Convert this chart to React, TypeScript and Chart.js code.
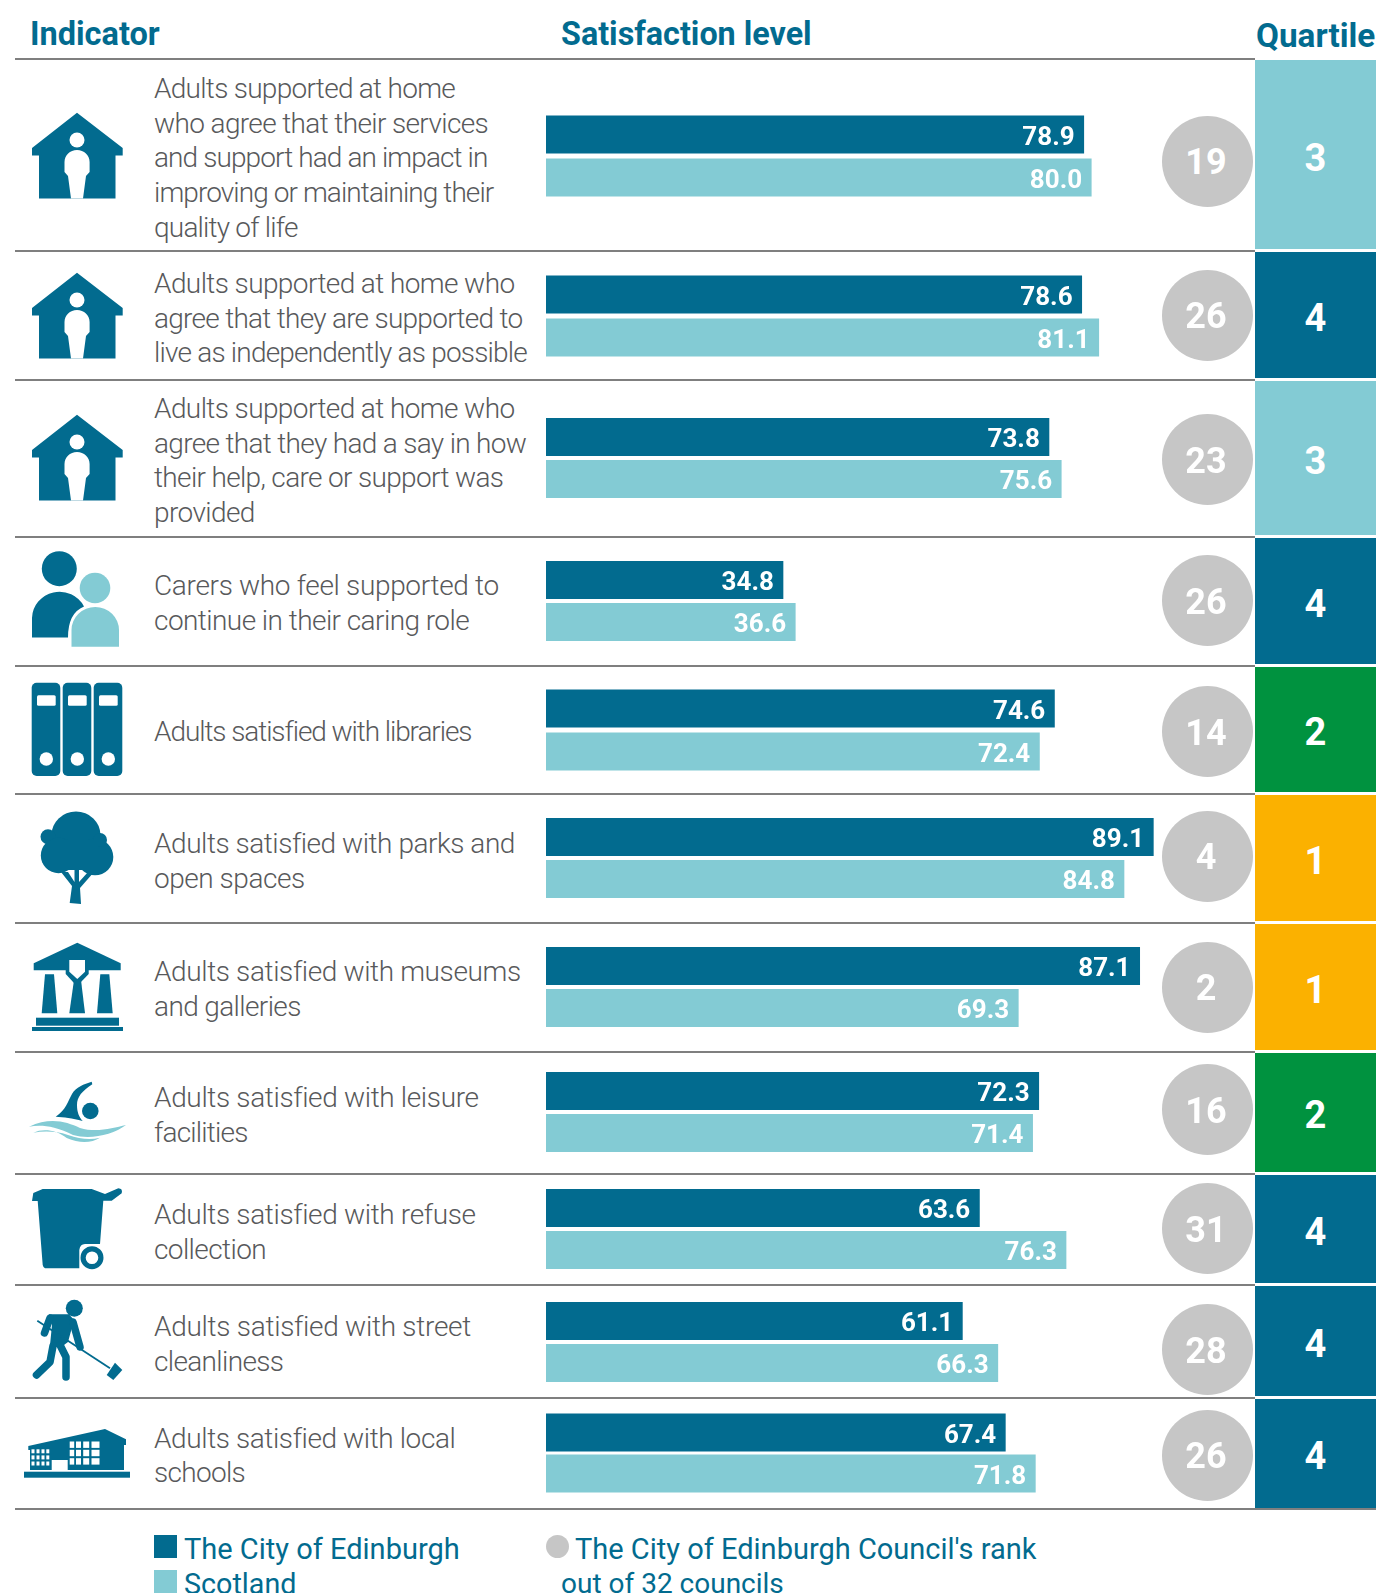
import React, { useEffect, useRef } from "react";
import { Chart, registerables } from "chart.js";

Chart.register(...registerables);

const indicatorLines = [
  ["Adults supported at home", "who agree that their services", "and support had an impact in", "improving or maintaining their", "quality of life"],
  ["Adults supported at home who", "agree that they are supported to", "live as independently as possible"],
  ["Adults supported at home who", "agree that they had a say in how", "their help, care or support was", "provided"],
  ["Carers who feel supported to", "continue in their caring role"],
  ["Adults satisfied with libraries"],
  ["Adults satisfied with parks and", "open spaces"],
  ["Adults satisfied with museums", "and galleries"],
  ["Adults satisfied with leisure", "facilities"],
  ["Adults satisfied with refuse", "collection"],
  ["Adults satisfied with street", "cleanliness"],
  ["Adults satisfied with local", "schools"],
];
const edinburgh = [78.9, 78.6, 73.8, 34.8, 74.6, 89.1, 87.1, 72.3, 63.6, 61.1, 67.4];
const scotland = [80.0, 81.1, 75.6, 36.6, 72.4, 84.8, 69.3, 71.4, 76.3, 66.3, 71.8];
const ranks = [19, 26, 23, 26, 14, 4, 2, 16, 31, 28, 26];
const quartiles = [3, 4, 3, 4, 2, 1, 1, 2, 4, 4, 4];

const separators = [59, 251, 380, 536.5, 665.5, 794, 923, 1051.5, 1173.5, 1285, 1398, 1508.5];
const barTops = [115, 275, 418, 561, 689, 818, 947, 1072, 1189, 1302, 1413];
const barGaps = [5, 5, 4, 4, 5, 4, 4, 4, 4, 4, 3];
const circleCenters = [161, 315, 459.5, 600.5, 731.5, 856, 987, 1109.5, 1228.5, 1349.5, 1455];
const textCenters = [89.4, 284.5, 409.5, 586.3, 732.7, 844.5, 972.5, 1098.5, 1215.4, 1327.2, 1439];
const lineSpacings = [
  [-0.72, -0.63, -0.9, -0.91, -0.8],
  [-0.6, -0.73, -0.8],
  [-0.6, -0.68, -0.66, -0.6],
  [-0.33, -0.56],
  [-1.08],
  [-0.46, -0.46],
  [-0.38, -0.62],
  [-0.35, -0.8],
  [-0.35, -0.6],
  [-0.28, -0.65],
  [-0.4, -0.7],
];

const DARK = "#026B8F";
const LIGHT = "#83CBD4";
const GREY = "#C6C6C6";
const QUARTILE_COLOURS: Record<number, string> = { 1: "#FBB100", 2: "#00923F", 3: LIGHT, 4: DARK };
const FONT = "Roboto, sans-serif";

const valueLabels = {
  id: "valueLabels",
  afterDatasetsDraw(chart: any) {
    const { ctx } = chart;
    ctx.save();
    ctx.font = `700 26px ${FONT}`;
    ctx.fillStyle = "#fff";
    ctx.textAlign = "right";
    ctx.textBaseline = "middle";
    chart.data.datasets.forEach((ds: any, i: number) => {
      chart.getDatasetMeta(i).data.forEach((bar: any, j: number) => {
        ctx.fillText(ds.data[j].toFixed(1), bar.x - 9.5, bar.y + 3.5);
      });
    });
    ctx.restore();
  },
};

function BarRow({ index }: { index: number }) {
  const ref = useRef<HTMLCanvasElement>(null);
  const gap = barGaps[index];
  const height = 76 + 2 * gap;
  useEffect(() => {
    const chart = new Chart(ref.current!, {
      type: "bar",
      data: {
        labels: [indicatorLines[index].join(" ")],
        datasets: [
          { label: "The City of Edinburgh", data: [edinburgh[index]], backgroundColor: DARK },
          { label: "Scotland", data: [scotland[index]], backgroundColor: LIGHT },
        ],
      },
      options: {
        indexAxis: "y",
        animation: false,
        responsive: false,
        layout: { padding: 0 },
        datasets: { bar: { categoryPercentage: 1, barPercentage: 38 / (38 + gap) } },
        scales: {
          x: { display: false, min: 0, max: 100 },
          y: { display: false },
        },
        plugins: { legend: { display: false }, tooltip: { enabled: false } },
      },
      plugins: [valueLabels],
    } as any);
    return () => chart.destroy();
  }, [index, gap]);
  return (
    <canvas
      ref={ref}
      width={682}
      height={height}
      style={{ position: "absolute", left: 546, top: barTops[index] - gap / 2, width: 682, height }}
    />
  );
}

const House = ({ dy }: { dy: number }) => (
  <g transform={`translate(0 ${dy})`}>
    <path d="M77 112.7 L122.7 148 V155.6 H115.5 V198.5 H39 V155.6 H32 V148 Z" fill={DARK} />
    <circle cx="77" cy="140" r="7.5" fill="#fff" />
    <path d="M77 150 C70 150 64.5 155 64.5 162 V172 L68 176 L71 198.5 H83 L86 176 L89.6 172 V162 C89.6 155 84 150 77 150 Z" fill="#fff" />
  </g>
);

function Icons() {
  const leftWin = [31.5, 36.5, 41.5, 46.3];
  const leftRow = [1449.3, 1455.4, 1461.5];
  const rightWin = [
    [69.7, 4.5],
    [76, 5],
    [83.2, 6],
    [91.5, 8],
  ];
  const rightRow = [1441.5, 1449.8, 1458.2];
  return (
    <svg width="1376" height="1593" style={{ position: "absolute", left: 0, top: 0 }}>
      <House dy={0} />
      <House dy={160} />
      <House dy={302} />
      {/* carers */}
      <circle cx="59.3" cy="568.7" r="17.5" fill={DARK} />
      <path d="M32 637.5 V618 A27.5 27 0 0 1 84 606.5 Q68 613 68 637.5 Z" fill={DARK} />
      <circle cx="95" cy="588" r="15.3" fill={LIGHT} />
      <path d="M71.5 646.7 V630 A23.7 23 0 0 1 119 630 V646.7 Z" fill={LIGHT} />
      {/* binders */}
      {[0, 31, 62].map((o) => (
        <g key={o} transform={`translate(${o} 0)`}>
          <rect x="31.7" y="682.7" width="28.6" height="93.3" rx="5" fill={DARK} />
          <rect x="37" y="695.3" width="18.7" height="10.4" rx="1.5" fill="#fff" />
          <circle cx="46.3" cy="759" r="6.7" fill="#fff" />
        </g>
      ))}
      {/* tree */}
      <g fill={DARK}>
        <ellipse cx="76" cy="835" rx="24.5" ry="23.5" />
        <circle cx="48" cy="836.7" r="7.5" />
        <circle cx="58.5" cy="855.5" r="17.7" />
        <circle cx="95" cy="857" r="18.3" />
        <circle cx="100" cy="840" r="7" />
        <rect x="58" y="840" width="40" height="30" />
        <path d="M69.7 903 L72 886 L61 872 H68 L74.5 882 V870 H79 V882 L88 872 H94 L80 888 L81 904 Z" />
      </g>
      {/* museum */}
      <g fill={DARK}>
        <path d="M77.3 942.7 L120.7 963.3 V970.3 H33.7 V963.3 Z" />
        <path d="M65.7 970 H88.7 V974 L80 983 H74 L65.7 974 Z" />
        <path d="M74 980 H81 L85 1013.3 H69.3 Z" />
        <path d="M45 974.3 H54 L57.3 1013.3 H41.7 Z" />
        <path d="M100.3 974.3 H109.3 L112.7 1013.3 H97 Z" />
        <rect x="36" y="1017.7" width="83" height="8" />
        <rect x="32" y="1027" width="91" height="4" />
      </g>
      <path d="M69.3 960 H85 V971.7 L77.3 979 L69.3 971.7 Z" fill="#fff" />
      {/* swimmer */}
      <path d="M55.7 1116.7 C66 1110 68 1101 72 1094 C76 1087 84 1084 91.7 1081.7 L92.3 1084.3 C82 1091 77 1097 77 1105 C77 1112 79 1117 82.7 1121 C72 1118 64 1117 55.7 1116.7 Z" fill={DARK} />
      <circle cx="90.3" cy="1111" r="8.3" fill={DARK} />
      <path d="M29 1126.7 C50 1116.7 66.7 1121.7 80 1128 C96.7 1133 113 1128 126 1125 C113 1135 90 1140 73 1135 C53 1125 40 1125 29 1126.7 Z" fill={LIGHT} />
      <path d="M33.3 1132.7 C43.3 1128 56.7 1130 66.7 1138 C80 1144 91.7 1143 100 1137.7 C90 1140 80 1139 68 1135 C56 1131 44 1131 33.3 1132.7 Z" fill={LIGHT} />
      {/* bin */}
      <path d="M32 1201 L33.3 1193 L42.7 1189 H91.7 L105 1194 L118.3 1188.3 Q123 1188.5 121.7 1193.3 L111.7 1200.7 H103.3 L100 1244 H85 Q80 1244 79.3 1250 V1268.3 H45 Q43.5 1268.3 42.7 1265 L37.7 1201 Z" fill={DARK} />
      <circle cx="92" cy="1257.7" r="8.9" fill="#fff" stroke={DARK} strokeWidth="5.2" />
      {/* sweeper */}
      <g>
        <circle cx="74.3" cy="1308.3" r="8.5" fill={DARK} />
        <path d="M49 1314.3 H69 L74 1320 L68 1342 L60 1348 L50 1345 L52 1325 Z" fill={DARK} />
        <path d="M73 1322 L80 1347" stroke={DARK} strokeWidth="7.5" strokeLinecap="round" fill="none" />
        <path d="M50 1318 L44.5 1333" stroke={DARK} strokeWidth="7.5" strokeLinecap="round" fill="none" />
        <path d="M53 1346 L50 1362 L36.5 1375" stroke={DARK} strokeWidth="7.5" strokeLinecap="round" strokeLinejoin="round" fill="none" />
        <path d="M60 1345 L66 1357 V1377" stroke={DARK} strokeWidth="7.5" strokeLinecap="round" strokeLinejoin="round" fill="none" />
        <path d="M37.3 1320.7 L110 1368.3" stroke={DARK} strokeWidth="1.8" />
        <path d="M106.7 1375 L115 1362.7 L122.3 1370 L113.3 1380 Z" fill={DARK} />
      </g>
      {/* school */}
      <rect x="24" y="1471.7" width="106" height="6" fill={DARK} />
      <path d="M28.3 1446 L105 1429 L126 1439.3 V1445 H124 V1470 H67.7 V1460 H51.7 V1470 H30 V1450 H28.3 Z" fill={DARK} />
      {leftRow.map((y) => leftWin.map((x) => <rect key={`${x}-${y}`} x={x} y={y} width="3" height="4" fill="#fff" />))}
      {rightRow.map((y) => rightWin.map(([x, w]) => <rect key={`${x}-${y}`} x={x} y={y} width={w} height="6.4" fill="#fff" />))}
    </svg>
  );
}

const abs = (o: React.CSSProperties): React.CSSProperties => ({ position: "absolute", whiteSpace: "pre", ...o });

export default function App() {
  return (
    <div style={{ position: "absolute", left: 0, top: 0, width: 1376, height: 1593, overflow: "hidden", background: "#fff", fontFamily: FONT }}>
      <div style={abs({ left: 30, top: 14.5, fontSize: 32.5, lineHeight: "38px", fontWeight: 700, color: DARK })}>Indicator</div>
      <div style={abs({ left: 561, top: 14.5, fontSize: 32.3, lineHeight: "38px", fontWeight: 700, color: DARK })}>Satisfaction level</div>
      <div style={abs({ left: 1256, top: 16.5, fontSize: 33.3, lineHeight: "38px", fontWeight: 700, color: DARK })}>Quartile</div>

      {separators.map((y, i) => (
        <div key={i} style={{ position: "absolute", left: 15, top: y - 1, width: i === separators.length - 1 ? 1361 : 1240, height: 2, background: "#7F7F7F" }} />
      ))}

      {quartiles.map((q, i) => (
        <div
          key={i}
          style={{
            position: "absolute",
            left: 1255,
            top: separators[i] + 1,
            width: 121,
            height: separators[i + 1] - separators[i] - (i === quartiles.length - 1 ? 2 : 3),
            background: QUARTILE_COLOURS[q],
            color: "#fff",
            fontSize: 38,
            fontWeight: 700,
            display: "flex",
            alignItems: "center",
            justifyContent: "center",
            paddingTop: 6,
            boxSizing: "border-box",
          }}
        >
          {q}
        </div>
      ))}

      <Icons />

      {indicatorLines.map((lines, i) =>
        lines.map((line, j) => (
          <div
            key={`${i}-${j}`}
            style={abs({
              left: 154,
              top: textCenters[i] - 17.3 + j * 34.6,
              fontSize: 28,
              lineHeight: "34.6px",
              fontWeight: 300,
              color: "#58595B",
              letterSpacing: lineSpacings[i][j],
            })}
          >
            {line}
          </div>
        ))
      )}

      {edinburgh.map((_, i) => (
        <BarRow key={i} index={i} />
      ))}

      {ranks.map((r, i) => (
        <div
          key={i}
          style={{
            position: "absolute",
            left: 1161.5,
            top: circleCenters[i] - 45.5,
            width: 91,
            height: 91,
            borderRadius: "50%",
            background: GREY,
            color: "#fff",
            fontSize: 36,
            fontWeight: 700,
            display: "flex",
            alignItems: "center",
            justifyContent: "center",
            padding: "2px 2px 0 0",
            boxSizing: "border-box",
          }}
        >
          {r}
        </div>
      ))}

      <div style={{ position: "absolute", left: 154.3, top: 1535, width: 22.5, height: 23, background: DARK }} />
      <div style={{ position: "absolute", left: 154.3, top: 1570, width: 22.5, height: 23, background: LIGHT }} />
      <div style={{ position: "absolute", left: 545.8, top: 1535, width: 23, height: 23, borderRadius: "50%", background: GREY }} />
      <div style={abs({ left: 184, top: 1532, fontSize: 29, lineHeight: "34.6px", color: DARK })}>The City of Edinburgh</div>
      <div style={abs({ left: 184, top: 1566.6, fontSize: 28.7, lineHeight: "34.6px", color: DARK })}>Scotland</div>
      <div style={abs({ left: 575, top: 1532, fontSize: 29, lineHeight: "34.6px", color: DARK })}>The City of Edinburgh Council's rank</div>
      <div style={abs({ left: 561, top: 1566.6, fontSize: 28, lineHeight: "34.6px", color: DARK })}>out of 32 councils</div>
    </div>
  );
}
